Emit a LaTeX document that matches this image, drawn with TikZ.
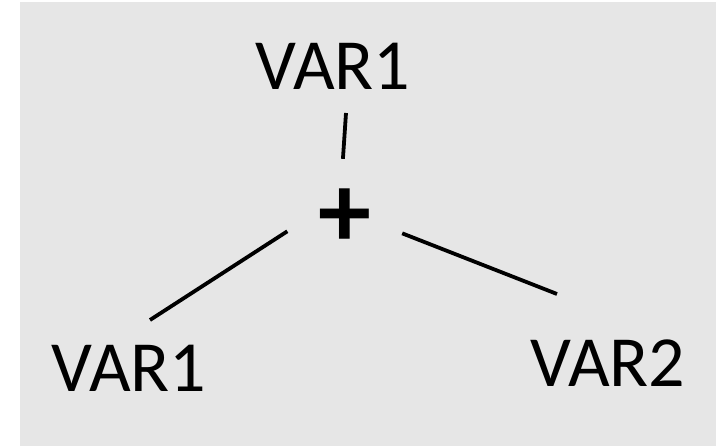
\documentclass[tikz,border=0pt]{standalone}
\usepackage{fontspec}
\setmainfont{Carlito}
\usetikzlibrary{positioning}
\definecolor{panel}{HTML}{E6E6E6}

\begin{document}
\begin{tikzpicture}[
  x=1pt, y=1pt,
  term/.style={inner sep=0pt, anchor=base, font=\fontsize{72}{80}\selectfont},
  op/.style={circle, minimum size=118pt, inner sep=0pt, font=\bfseries\fontsize{106}{110}\selectfont},
  edge/.style={line width=3.8pt}
]
\useasboundingbox (0,0) rectangle (716,447);
\fill[panel] (20,1) rectangle (716,445);

\node[term] (top) at (333,357) {VAR1};
\node[op] (plus) at (345,229) {+};
\node[term] (left) at (129,55) {VAR1};
\node[term] (right) at (608,60) {VAR2};

\draw[edge] ([shift={(13,-23)}]top.base) -- (plus.92);
\draw[edge] ([shift={(21,72)}]left.base) -- (plus.193);
\draw[edge] ([shift={(-51,93)}]right.base) -- (plus.345);
\end{tikzpicture}
\end{document}
